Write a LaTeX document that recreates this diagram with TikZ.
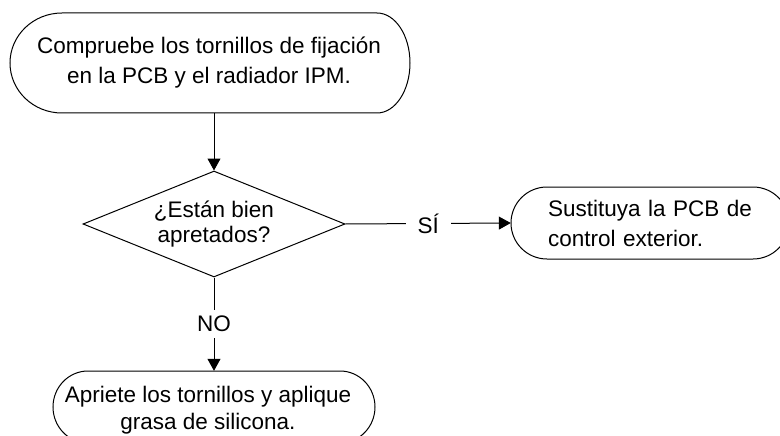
\documentclass[tikz,border=0pt]{standalone}
\usepackage{fontspec}
\setmainfont{Liberation Sans}
\usetikzlibrary{shapes.geometric,arrows.meta}
\newcommand\termoutline[6]{% left x, right x, top y, bottom y, left bulge, right bulge
  \draw[lineS] ({#1+#5},#3) -- ({#2-#6},#3)
    .. controls ({#2-#6+0.5523*#6},#3) and (#2,{(#3+#4)/2-0.5523*(#4-#3)/2}) .. (#2,{(#3+#4)/2})
    .. controls (#2,{(#3+#4)/2+0.5523*(#4-#3)/2}) and ({#2-#6+0.5523*#6},#4) .. ({#2-#6},#4)
    -- ({#1+#5},#4)
    .. controls ({#1+#5-0.5523*#5},#4) and (#1,{(#3+#4)/2+0.5523*(#4-#3)/2}) .. (#1,{(#3+#4)/2})
    .. controls (#1,{(#3+#4)/2-0.5523*(#4-#3)/2}) and ({#1+#5-0.5523*#5},#3) .. ({#1+#5},#3);}
\begin{document}
\begin{tikzpicture}[x=1pt,y=-1pt,
  lineS/.style={line width=1pt,black},
  txt/.style={font=\fontsize{22.5}{30}\selectfont, align=center, inner sep=0pt},
  conn/.style={lineS,-{Triangle[length=12pt,width=13pt]}},
  lbl/.style={font=\fontsize{22.5}{30}\selectfont, fill=white, inner xsep=12pt, inner ysep=6pt},
  decision/.style={diamond, aspect=2.47, draw, line width=1pt, minimum width=262pt, minimum height=106pt, inner sep=0pt, font=\fontsize{22.5}{25}\selectfont, align=center}]
\useasboundingbox (0,0) rectangle (780,436);
\begin{scope}
\clip (0,0) rectangle (780,436);
% top box
\termoutline{10}{410}{13}{113}{52}{33}
\node[txt, minimum width=400pt, minimum height=100pt] (start) at (209,63)
  {Compruebe los tornillos de fijación\\en la PCB y el radiador IPM.};
% decision
\node[decision] (dec) at (214,224) {¿Están bien\\apretados?};
% right box
\termoutline{511}{789}{187}{259}{36}{36}
\node[txt, minimum width=278pt, minimum height=72pt, text width=204pt, align=left] (yes) at (650,223)
  {Sustituya la PCB de\\control exterior.};
% bottom box
\termoutline{53}{375}{371}{443}{35}{35}
\node[txt, font=\fontsize{22.5}{27}\selectfont, minimum width=322pt, minimum height=78pt] (fix) at (208,410)
  {Apriete los tornillos y aplique\\grasa de silicona.};
\end{scope}
% connectors
\draw[conn] (dec.north |- start.south) -- (dec.north);
\draw[conn] (dec.east) -- node[lbl] {SÍ} (yes.west);
\draw[conn] (dec.south) -- node[lbl] {NO} (dec.south |- fix.north);
\end{tikzpicture}
\end{document}
